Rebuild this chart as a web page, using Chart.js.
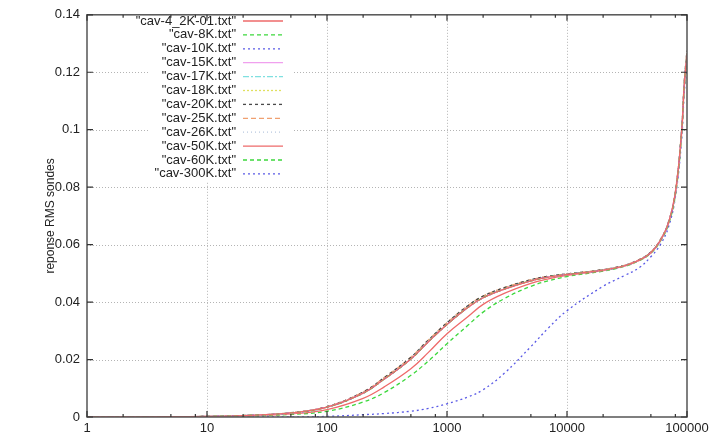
<!DOCTYPE html>
<html>
<head>
<meta charset="utf-8">
<script src="https://cdn.jsdelivr.net/npm/chart.js@4/dist/chart.umd.min.js"></script>
<style>
  html, body { margin: 0; padding: 0; background: #fff; }
  canvas { display: block; }
</style>
</head>
<body>
<canvas id="chart" width="719" height="438"></canvas>
<script>
// Fréquences (axe x, log)
const freq = [1, 2, 5, 10, 20, 50, 100, 200, 300, 500, 700, 1000, 1500, 2000, 3000, 5000, 7000,
              10000, 20000, 30000, 40000, 50000, 60000, 70000, 80000, 90000, 95000, 100000];

// Réponses
const lowT = [0, 0.00005, 0.0001, 0.0002, 0.0005, 0.0014, 0.0034, 0.0083, 0.0132, 0.0202, 0.0262, 0.0322, 0.0382, 0.0415, 0.0445, 0.0474, 0.0487,
              0.0496, 0.0511, 0.0526, 0.0546, 0.0572, 0.0615, 0.0675, 0.0780, 0.0990, 0.1160, 0.1265];
const midT = [0, 0.00005, 0.0001, 0.0002, 0.0005, 0.0015, 0.0036, 0.0087, 0.0137, 0.0208, 0.0268, 0.0328, 0.0388, 0.0421, 0.0450, 0.0478, 0.0490,
              0.0498, 0.0513, 0.0528, 0.0548, 0.0574, 0.0617, 0.0678, 0.0785, 0.0995, 0.1170, 0.1275];
const k50 = [0, 0.00004, 0.0001, 0.00018, 0.0004, 0.0011, 0.0026, 0.0065, 0.0105, 0.0168, 0.0225, 0.0290, 0.0350, 0.0392, 0.0430, 0.0465, 0.0481,
             0.0493, 0.0510, 0.0525, 0.0545, 0.0571, 0.0613, 0.0672, 0.0775, 0.0980, 0.1150, 0.1255];
const k60 = [0, 0.00003, 0.00008, 0.00015, 0.0003, 0.0009, 0.0020, 0.0052, 0.0085, 0.0145, 0.0195, 0.0255, 0.0320, 0.0365, 0.0412, 0.0455, 0.0474,
             0.0489, 0.0508, 0.0524, 0.0544, 0.0570, 0.0612, 0.0670, 0.0772, 0.0975, 0.1145, 0.1250];
const k300 = [0, 0, 0, 0, 0, 0.00005, 0.0002, 0.0008, 0.0012, 0.0020, 0.0030, 0.0046, 0.0070, 0.0095, 0.0152, 0.0245, 0.0310,
              0.0370, 0.0455, 0.0492, 0.0520, 0.0558, 0.0600, 0.0660, 0.0765, 0.0960, 0.1130, 0.1225];

const labels = ['"cav-4_2K-01.txt"', '"cav-8K.txt"', '"cav-10K.txt"', '"cav-15K.txt"', '"cav-17K.txt"', '"cav-18K.txt"',
                '"cav-20K.txt"', '"cav-25K.txt"', '"cav-26K.txt"', '"cav-50K.txt"', '"cav-60K.txt"', '"cav-300K.txt"'];
const series = [lowT, lowT, lowT, lowT, lowT, lowT, midT, midT, midT, k50, k60, k300];
// styles gnuplot (couleur, pointillés)
const colors = ['#ee6a6a', '#3cd83c', '#5a5ae6', '#f0a0ee', '#7fe0e0', '#e0e060', '#4a4a4a', '#f0a070', '#b8c8e0', '#ee6a6a', '#3cd83c', '#5a5ae6'];
const dashes = [[], [4, 3], [2, 3], [], [6, 2, 2, 2], [2, 2], [3, 3], [5, 3], [1, 3], [], [4, 3], [2, 3]];

const xTicks = [1, 10, 100, 1000, 10000, 100000];
const yTicks = [0, 0.02, 0.04, 0.06, 0.08, 0.1, 0.12, 0.14];

const FONT = '"Liberation Sans", Arial, sans-serif';

const datasets = labels.map((lab, i) => ({
    label: lab,
    data: freq.map((f, j) => ({ x: f, y: series[i][j] })),
    borderColor: colors[i],
    borderDash: dashes[i],
    borderWidth: 1.3,
    pointRadius: 0,
    fill: false,
    tension: 0.4
}));

// Grille, cadre, graduations et légende façon gnuplot
const gnuplotStyle = {
    id: 'gnuplotStyle',
    beforeDatasetsDraw(chart) {
        const { ctx, chartArea: a, scales: { x, y } } = chart;
        ctx.save();
        ctx.strokeStyle = '#b4b4b4';
        ctx.lineWidth = 1;
        ctx.setLineDash([1, 2]);
        xTicks.slice(1, -1).forEach(v => {
            const px = Math.round(x.getPixelForValue(v)) + 0.5;
            ctx.beginPath(); ctx.moveTo(px, a.top); ctx.lineTo(px, a.bottom); ctx.stroke();
        });
        yTicks.slice(1, -1).forEach(v => {
            const py = Math.round(y.getPixelForValue(v)) + 0.5;
            ctx.beginPath(); ctx.moveTo(a.left, py); ctx.lineTo(a.right, py); ctx.stroke();
        });
        // zone de la légende effacée
        ctx.fillStyle = '#fff';
        ctx.fillRect(150, 13, 142, 169);
        ctx.restore();
    },
    afterDatasetsDraw(chart) {
        const { ctx, chartArea: a, scales: { x, y } } = chart;
        ctx.save();
        ctx.setLineDash([]);
        ctx.strokeStyle = '#555';
        ctx.lineWidth = 1.5;
        ctx.strokeRect(a.left, a.top, a.right - a.left, a.bottom - a.top);

        ctx.lineWidth = 1.2;
        ctx.strokeStyle = '#333';
        // graduations x : majeures + 2, 5, 8
        xTicks.forEach((v, i) => {
            const ticks = [[v, 6]];
            if (i < xTicks.length - 1) ticks.push([2 * v, 3], [5 * v, 3], [8 * v, 3]);
            ticks.forEach(([t, len]) => {
                const px = x.getPixelForValue(t);
                ctx.beginPath();
                ctx.moveTo(px, a.bottom); ctx.lineTo(px, a.bottom - len);
                ctx.moveTo(px, a.top); ctx.lineTo(px, a.top + len);
                ctx.stroke();
            });
        });
        yTicks.forEach(v => {
            const py = y.getPixelForValue(v);
            ctx.beginPath();
            ctx.moveTo(a.left, py); ctx.lineTo(a.left + 6, py);
            ctx.moveTo(a.right, py); ctx.lineTo(a.right - 6, py);
            ctx.stroke();
        });

        // légende
        ctx.font = '13px ' + FONT;
        ctx.textAlign = 'right';
        ctx.textBaseline = 'middle';
        chart.data.datasets.forEach((ds, i) => {
            const ly = 21 + i * 13.9;
            ctx.fillStyle = '#222';
            ctx.fillText(ds.label, 236, ly);
            ctx.strokeStyle = ds.borderColor;
            ctx.lineWidth = ds.borderWidth;
            ctx.setLineDash(ds.borderDash);
            ctx.beginPath(); ctx.moveTo(243, ly); ctx.lineTo(283, ly); ctx.stroke();
        });
        ctx.restore();
    }
};

new Chart(document.getElementById('chart'), {
    type: 'line',
    data: { datasets },
    options: {
        responsive: false,
        animation: false,
        layout: { padding: { top: 7, right: 32, left: 0, bottom: 0 } },
        plugins: { legend: { display: false }, tooltip: { enabled: false } },
        scales: {
            x: {
                type: 'logarithmic',
                min: 1,
                max: 100000,
                grid: { display: false, drawTicks: false, tickLength: 0 },
                border: { display: false },
                ticks: {
                    color: '#222',
                    font: { family: FONT, size: 13 },
                    padding: 4,
                    autoSkip: false,
                    maxRotation: 0,
                    callback: v => xTicks.includes(v) ? String(v) : ''
                },
                afterFit: s => { s.height = 21; }
            },
            y: {
                min: 0,
                max: 0.14,
                grid: { display: false, drawTicks: false, tickLength: 0 },
                border: { display: false },
                ticks: {
                    stepSize: 0.02,
                    color: '#222',
                    font: { family: FONT, size: 13 },
                    padding: 7,
                    callback: v => String(+v.toFixed(2))
                },
                title: {
                    display: true,
                    text: 'reponse RMS sondes',
                    color: '#222',
                    font: { family: FONT, size: 12 },
                    padding: { top: 43, bottom: 0 }
                },
                afterFit: s => { s.width = 87; }
            }
        }
    },
    plugins: [gnuplotStyle]
});
</script>
</body>
</html>
